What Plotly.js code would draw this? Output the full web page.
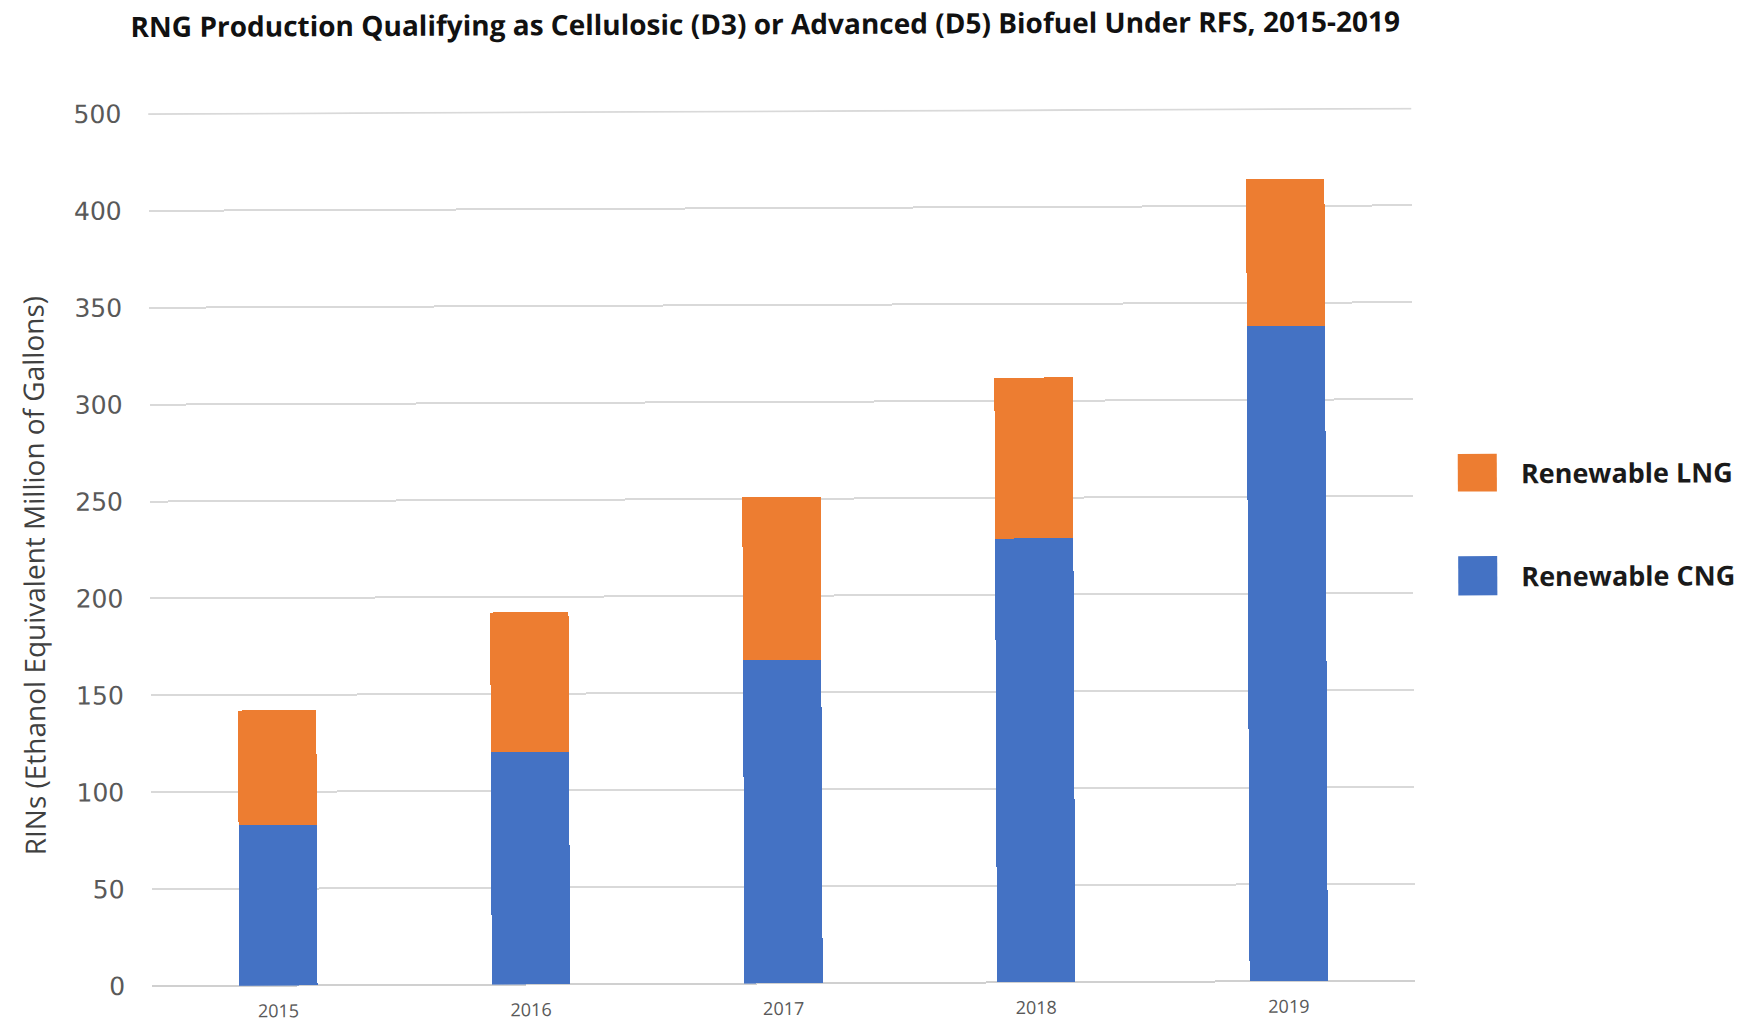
<!DOCTYPE html>
<html>
<head>
<meta charset="utf-8">
<script src="https://cdn.plot.ly/plotly-3.0.1.min.js"></script>
<style>
  html, body { margin: 0; padding: 0; background: #ffffff; overflow: hidden; }
  #chart { width: 1744px; height: 1021px; transform: rotate(-0.25deg); transform-origin: 50% 50%; }
</style>
</head>
<body>
<div id="chart"></div>
<script>
// RINs by fuel type, million ethanol-equivalent gallons
const years = ['2015', '2016', '2017', '2018', '2019'];
const renewableCNG = [83, 120, 167, 229, 338];
const renewableLNG = [59, 72, 84, 83, 76];

// y-axis gridline positions and their printed labels
const yTickVals = [0, 50, 100, 150, 200, 250, 300, 350, 400, 450];
const yTickText = ['0', '50', '100', '150', '200', '250', '300', '350', '400', '500'];

const seriesNames = ['Renewable CNG', 'Renewable LNG'];
const colors = ['#4472C4', '#ED7D31'];

const traces = [
  { type: 'bar', name: seriesNames[0], x: years, y: renewableCNG, marker: { color: colors[0] }, width: 0.31 },
  { type: 'bar', name: seriesNames[1], x: years, y: renewableLNG, marker: { color: colors[1] }, width: 0.31 }
];

// custom legend: large swatches with bold labels
const legendRows = [
  { name: seriesNames[1], color: colors[1], y0: 0.560, y1: 0.603 },
  { name: seriesNames[0], color: colors[0], y0: 0.441, y1: 0.486 }
];
const shapes = legendRows.map(r => ({
  type: 'rect', xref: 'paper', yref: 'paper',
  x0: 1.0356, x1: 1.0665, y0: r.y0, y1: r.y1,
  fillcolor: r.color, line: { width: 0 }
}));
// topmost gridline sits on the plot edge, so draw it explicitly
shapes.push({
  type: 'line', xref: 'paper', yref: 'y',
  x0: 0, x1: 1, y0: yTickVals[yTickVals.length - 1], y1: yTickVals[yTickVals.length - 1],
  line: { color: '#d9d9d9', width: 2 }, layer: 'below'
});
const annotations = legendRows.map(r => ({
  xref: 'paper', yref: 'paper', x: 1.0839, y: (r.y0 + r.y1) / 2,
  xanchor: 'left', yanchor: 'middle', showarrow: false,
  text: '<b>' + r.name + '</b>',
  font: { family: 'Open Sans, sans-serif', size: 27, color: '#1a1a1a' }
}));
annotations.push({
  xref: 'paper', yref: 'paper', x: 0, xshift: -117, y: 0.47,
  xanchor: 'center', yanchor: 'middle', showarrow: false, textangle: -90,
  text: 'RINs (Ethanol Equivalent Million of Gallons)',
  font: { family: 'Open Sans, sans-serif', size: 28, color: '#404040' }
});

const layout = {
  width: 1744, height: 1021,
  margin: { l: 150, r: 331, t: 110, b: 38 },
  paper_bgcolor: '#ffffff', plot_bgcolor: '#ffffff',
  barmode: 'stack',
  showlegend: false,
  title: {
    text: '<b>RNG Production Qualifying as Cellulosic (D3) or Advanced (D5) Biofuel Under RFS, 2015-2019</b>',
    x: 0.44, xref: 'container', xanchor: 'center',
    y: 0.9765, yref: 'container', yanchor: 'middle',
    font: { family: 'Open Sans, sans-serif', size: 28, color: '#111111' }
  },
  xaxis: {
    type: 'category', range: [-0.5, 4.5],
    showgrid: false, zeroline: false, showline: false,
    ticks: 'outside', ticklen: 9, tickcolor: 'rgba(0,0,0,0)',
    tickfont: { family: 'Open Sans, sans-serif', size: 18, color: '#595959' }
  },
  yaxis: {
    range: [0, 450.4], tickvals: yTickVals, ticktext: yTickText,
    showgrid: true, gridcolor: '#d9d9d9', gridwidth: 2,
    zeroline: true, zerolinecolor: '#d0d0d0', zerolinewidth: 2,
    showline: false,
    ticks: 'outside', ticklen: 21, tickcolor: 'rgba(0,0,0,0)',
    tickfont: { family: 'DejaVu Sans, sans-serif', size: 25, color: '#595959' }
  },
  shapes: shapes,
  annotations: annotations
};

Plotly.newPlot('chart', traces, layout, { displayModeBar: false, staticPlot: true });
</script>
</body>
</html>
